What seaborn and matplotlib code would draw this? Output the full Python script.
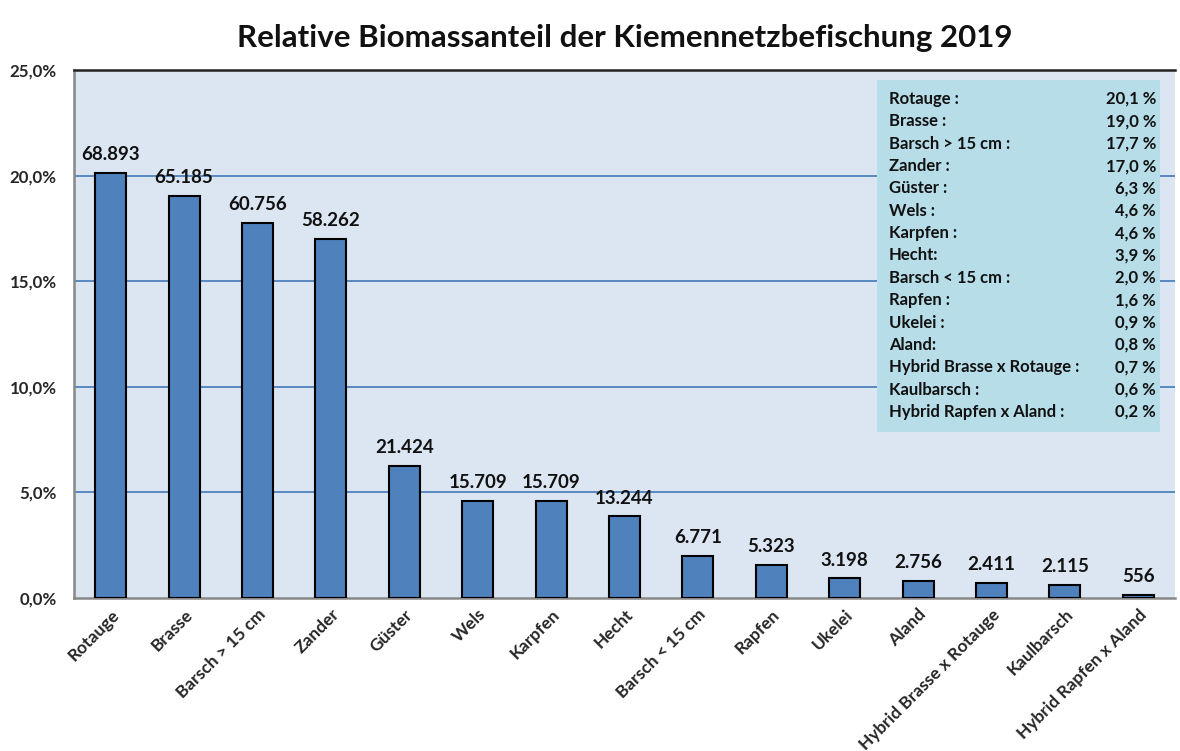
import matplotlib
matplotlib.use("Agg")
import matplotlib.pyplot as plt
import matplotlib.ticker as mticker
import seaborn as sns
import pandas as pd

species = ["Rotauge", "Brasse", "Barsch > 15 cm", "Zander", "Güster", "Wels", "Karpfen",
           "Hecht", "Barsch < 15 cm", "Rapfen", "Ukelei", "Aland",
           "Hybrid Brasse x Rotauge", "Kaulbarsch", "Hybrid Rapfen x Aland"]
share_pct = [20.13, 19.04, 17.75, 17.02, 6.26, 4.59, 4.59, 3.87, 1.98, 1.56, 0.93, 0.81, 0.70, 0.62, 0.16]
biomass_labels = ["68.893", "65.185", "60.756", "58.262", "21.424", "15.709", "15.709", "13.244",
                  "6.771", "5.323", "3.198", "2.756", "2.411", "2.115", "556"]
legend_names = ["Rotauge :", "Brasse :", "Barsch > 15 cm :", "Zander :", "Güster :", "Wels :",
                "Karpfen :", "Hecht:", "Barsch < 15 cm :", "Rapfen :", "Ukelei :", "Aland:",
                "Hybrid Brasse x Rotauge :", "Kaulbarsch :", "Hybrid Rapfen x Aland :"]
legend_values = ["20,1 %", "19,0 %", "17,7 %", "17,0 %", "6,3 %", "4,6 %", "4,6 %", "3,9 %",
                 "2,0 %", "1,6 %", "0,9 %", "0,8 %", "0,7 %", "0,6 %", "0,2 %"]
title = "Relative Biomassanteil der Kiemennetzbefischung 2019"

sns.set_theme(style="white")
plt.rcParams['font.family'] = ['Lato', 'DejaVu Sans']
plt.rcParams['font.weight'] = 'bold'

df = pd.DataFrame({"Art": species, "Anteil": share_pct})

fig = plt.figure(figsize=(11.8, 7.51), dpi=100)
fig.patch.set_facecolor("white")
ax = fig.add_axes([74/1180, 1-598/751, (1175-74)/1180, (598-70)/751])
ax.set_facecolor("#dce6f2")

sns.barplot(data=df, x="Art", y="Anteil", color="#4f81bd", saturation=1, width=0.42,
            edgecolor="black", linewidth=1.5, ax=ax, zorder=3)

ax.set_ylim(0, 25)
ax.set_xlim(-0.5, len(species) - 0.5)
ax.yaxis.set_major_locator(mticker.MultipleLocator(5))
ax.yaxis.set_minor_locator(mticker.MultipleLocator(1))
ax.yaxis.set_major_formatter(mticker.FuncFormatter(lambda v, p: f"{v:.1f}%".replace(".", ",")))
for y in [5, 10, 15, 20]:
    ax.axhline(y, color="#4f81bd", lw=1.3, zorder=1)

ax.tick_params(axis="y", which="major", direction="out", length=3.5, width=1.5, color="#888888",
               labelsize=12.2, pad=9)
ax.tick_params(axis="y", which="minor", direction="in", length=4, width=1.2, color="#888888")
ax.set_xticks(range(len(species)))
ax.set_xticklabels(species, rotation=45, ha="right", rotation_mode="anchor", fontsize=12.5, fontweight="bold")
ax.xaxis.set_minor_locator(mticker.FixedLocator([i + 0.5 for i in range(-1, len(species))]))
ax.tick_params(axis="x", which="major", length=0, pad=6)
ax.tick_params(axis="x", which="minor", direction="out", length=6, width=1.5, color="#888888")
for lab in ax.get_yticklabels():
    lab.set_fontweight("bold")
ax.set_xlabel("")
ax.set_ylabel("")

for s in ["left", "bottom"]:
    ax.spines[s].set_color("#888888")
    ax.spines[s].set_linewidth(1.8)
ax.spines["top"].set_color("#222222")
ax.spines["top"].set_linewidth(1.8)
ax.spines["right"].set_visible(False)

for i, (v, lab) in enumerate(zip(share_pct, biomass_labels)):
    ax.annotate(lab, (i, v), xytext=(0, 7), textcoords="offset points", ha="center", va="bottom",
                fontsize=13.5, fontweight="bold", color="#111111", zorder=5)

fig.text((74 + 1175) / 2 / 1180, 1 - 38/751, title, ha="center", va="center",
         fontsize=22.5, fontweight="bold", color="#111111")

# legend box
box = plt.Rectangle((877/1180, 1-432/751), (1160-877)/1180, (432-80)/751,
                    transform=fig.transFigure, facecolor="#b7dde8", edgecolor="none", zorder=10)
fig.patches.append(box)
y0 = 99
step = (412 - 99) / 14
for k, (n, val) in enumerate(zip(legend_names, legend_values)):
    yy = 1 - (y0 + k * step) / 751
    fig.text(889/1180, yy, n, ha="left", va="center", fontsize=12, fontweight="bold", color="#111111", zorder=11)
    fig.text(1156/1180, yy, val, ha="right", va="center", fontsize=12, fontweight="bold", color="#111111", zorder=11)

fig.savefig("out.png", dpi=100)
